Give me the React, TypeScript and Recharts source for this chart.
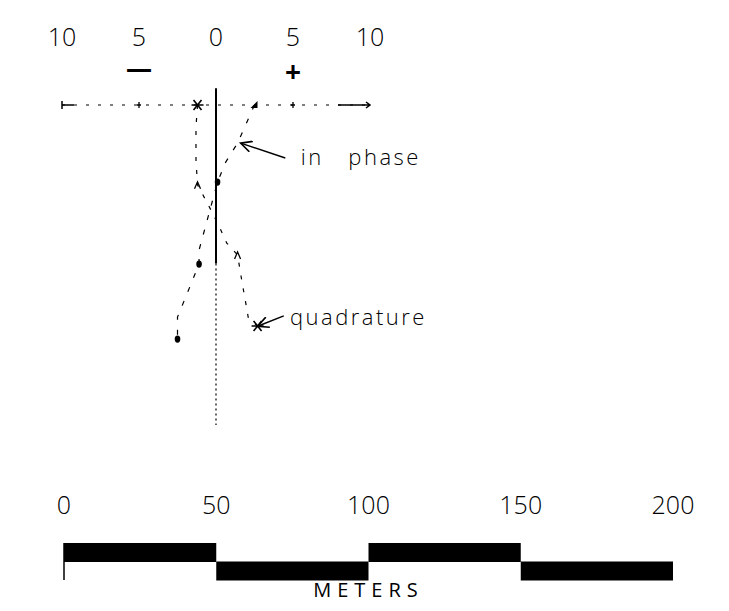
import { ScatterChart, Scatter, XAxis, YAxis, ReferenceLine, ReferenceDot, BarChart, Bar, Cell } from "recharts";

// response scale (percent), read left to right
const valueTicks = [-10, -5, 0, 5, 10];
const signTicks: Record<number, string> = { [-5]: "\u2014", 5: "+" };

// profile depth in meters (down the page) and response values
const quadDepth = [0, 7.2, 12.5, 18, 26.2, 32.8, 38.7, 45.3, 49.2, 58.4, 64, 69.9, 72.5];
const quadValue = [-1.2, -1.3, -1.3, -1.3, -1.2, -0.5, 0.1, 0.7, 1.4, 1.7, 1.9, 2.1, 2.7];
const quadMarks = ["star", "", "", "", "caret", "", "", "", "caret", "", "", "", "star"];

const phaseDepth = [0, 12.5, 19, 25.3, 47.6, 52.2, 69.6, 76.8];
const phaseValue = [2.5, 1.4, 0.6, 0.1, -1.1, -1.1, -2.5, -2.5];
const phaseMarks = ["tri", "", "", "dot", "", "dot", "", "dot"];

const notes = [
  { text: "in\u00a0\u00a0\u00a0phase", v: 5.5, m: 17.1, fromV: 4.5, fromM: 17.4, toV: 1.6, toM: 12.5 },
  { text: "quadrature", v: 4.8, m: 69.6, fromV: 4.4, fromM: 69.2, toV: 2.7, toM: 72.6 },
];

// scale bar (meters)
const meterTicks = [0, 50, 100, 150, 200];
const scaleSegments = [50, 50, 50, 50];
const scaleRows = ["upper", "lower"];
const scaleUnit = "METERS";

const FONT = "'Open Sans', 'DejaVu Sans', sans-serif";

const quadData = quadDepth.map((m, i) => ({ m, v: quadValue[i], mark: quadMarks[i] }));
const phaseData = phaseDepth.map((m, i) => ({ m, v: phaseValue[i], mark: phaseMarks[i] }));
const scaleData = scaleRows.map((row) => {
  const r: Record<string, string | number> = { row };
  scaleSegments.forEach((s, i) => (r["s" + i] = s));
  return r;
});

function Marker(props: any) {
  const { cx, cy, payload } = props;
  const k = payload?.mark;
  if (!k || cx == null || cy == null) return <g />;
  if (k === "dot") return <ellipse cx={cx} cy={cy} rx={2.8} ry={3.6} fill="#000" />;
  if (k === "tri") return <path d={`M${cx - 4},${cy + 3}L${cx + 3},${cy - 4}L${cx + 3},${cy + 3}Z`} fill="#000" />;
  if (k === "caret") return <path d={`M${cx - 3},${cy + 4}L${cx},${cy - 3}L${cx + 3},${cy + 4}`} stroke="#000" fill="none" strokeWidth={1.3} />;
  return (
    <path
      d={`M${cx - 6},${cy}H${cx + 6}M${cx - 4},${cy - 5}L${cx + 4},${cy + 5}M${cx + 4},${cy - 5}L${cx - 4},${cy + 5}`}
      stroke="#000"
      strokeWidth={1.6}
    />
  );
}

function ValueTick(props: any) {
  const { x, y, payload } = props;
  const v = payload.value;
  const sign = signTicks[v];
  return (
    <g>
      <text x={x} y={y - 59} textAnchor="middle" fontSize={25} fontWeight={300} fontFamily={FONT} fill="#000">
        {Math.abs(v)}
      </text>
      {sign && (
        <text x={x} y={y - (sign === "+" ? 23 : 27)} textAnchor="middle" fontSize={sign === "+" ? 28 : 26} fontWeight="bold" fontFamily={FONT} fill="#000">
          {sign}
        </text>
      )}
      {Math.abs(v) === 5 && <path d={`M${x},${y - 3}V${y + 3}M${x - 2},${y}H${x + 2}`} stroke="#000" strokeWidth={1.3} />}
      {v === -10 && <path d={`M${x},${y - 4}V${y + 4}M${x},${y}H${x + 12}`} stroke="#000" strokeWidth={1.5} />}
      {v === 10 && <path d={`M${x - 32},${y}H${x}M${x - 4},${y - 3}L${x},${y}L${x - 4},${y + 3}`} stroke="#000" strokeWidth={1.5} fill="none" />}
    </g>
  );
}

function MeterTick(props: any) {
  const { x, y, payload } = props;
  return (
    <text x={x} y={y - 29} textAnchor="middle" fontSize={25} fontWeight={300} fontFamily={FONT} fill="#000">
      {payload.value}
    </text>
  );
}

const arrowLine = (props: any) => {
  const { x1, y1, x2, y2 } = props;
  if (x1 == null) return <g />;
  return <line x1={x1} y1={y1} x2={x2} y2={y2} stroke="#000" strokeWidth={1.5} markerEnd="url(#arrowHead)" />;
};

export default function App() {
  return (
    <div style={{ position: "absolute", left: 0, top: 0, width: 729, height: 611, background: "#fff" }}>
      <div style={{ position: "absolute", left: 0, top: 0 }}>
        <ScatterChart width={729} height={440} margin={{ top: 45, right: 359, bottom: 15, left: 62 }}>
          <defs>
            <marker id="arrowHead" markerWidth="14" markerHeight="12" refX="12" refY="6" orient="auto" markerUnits="userSpaceOnUse">
              <path d="M1,0.5L12,6L1,11.5" fill="none" stroke="#000" strokeWidth={1.6} />
            </marker>
          </defs>
          <XAxis
            type="number"
            dataKey="v"
            orientation="top"
            domain={[-10, 10]}
            ticks={valueTicks}
            height={60}
            tickSize={0}
            tickMargin={0}
            tick={<ValueTick />}
            axisLine={{ stroke: "#000", strokeWidth: 1.2, strokeDasharray: "3 9" }}
          />
          <YAxis type="number" dataKey="m" domain={[0, 105]} reversed hide />
          <ReferenceLine segment={[{ x: 0, y: -5.5 }, { x: 0, y: 52 }]} stroke="#000" strokeWidth={2} ifOverflow="visible" />
          <ReferenceLine segment={[{ x: 0, y: 52 }, { x: 0, y: 105 }]} stroke="#000" strokeWidth={1.2} strokeDasharray="2 3" ifOverflow="visible" />
          <Scatter
            name="quadrature"
            data={quadData}
            line={{ stroke: "#000", strokeWidth: 1.2, strokeDasharray: "4 9" }}
            lineType="joint"
            shape={<Marker />}
            isAnimationActive={false}
          />
          <Scatter
            name="in phase"
            data={phaseData}
            line={{ stroke: "#000", strokeWidth: 1.2, strokeDasharray: "5 10" }}
            lineType="joint"
            shape={<Marker />}
            isAnimationActive={false}
          />
          {notes.map((n) => (
            <ReferenceLine
              key={"a" + n.text}
              segment={[{ x: n.fromV, y: n.fromM }, { x: n.toV, y: n.toM }]}
              shape={arrowLine}
              ifOverflow="visible"
            />
          ))}
          {notes.map((n) => (
            <ReferenceDot
              key={"t" + n.text}
              x={n.v}
              y={n.m}
              r={0}
              fill="none"
              stroke="none"
              ifOverflow="visible"
              label={{ value: n.text, position: "right", offset: 0, fill: "#000", fontSize: 22, fontWeight: 300, letterSpacing: 2.5, fontFamily: FONT }}
            />
          ))}
        </ScatterChart>
      </div>
      <div style={{ position: "absolute", left: 0, top: 470 }}>
        <BarChart
          width={729}
          height={140}
          data={scaleData}
          layout="vertical"
          barCategoryGap={0}
          barGap={0}
          margin={{ top: 0, right: 56, bottom: 30, left: 64 }}
        >
          <XAxis type="number" orientation="top" domain={[0, 200]} ticks={meterTicks} height={73} tickSize={0} tickMargin={0} tick={<MeterTick />} axisLine={false} />
          <YAxis type="category" dataKey="row" hide />
          <ReferenceLine x={0} stroke="#000" strokeWidth={1.5} />
          <ReferenceLine
            x={100}
            stroke="none"
            label={{ value: scaleUnit, position: "bottom", offset: 3, fill: "#000", fontSize: 20, fontWeight: 400, letterSpacing: 6, fontFamily: FONT }}
          />
          {scaleSegments.map((_, i) => (
            <Bar key={i} dataKey={"s" + i} stackId="s" isAnimationActive={false}>
              {scaleRows.map((row, j) => (
                <Cell key={row} fill={(i + j) % 2 === 0 ? "#000" : "transparent"} />
              ))}
            </Bar>
          ))}
        </BarChart>
      </div>
    </div>
  );
}
